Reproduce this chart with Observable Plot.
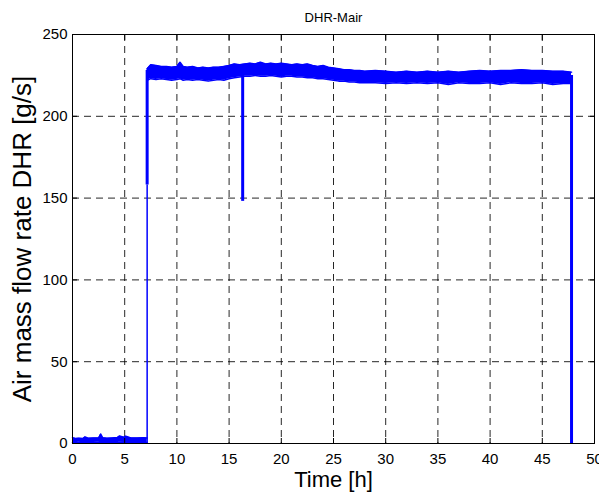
<!DOCTYPE html>
<html><head><meta charset="utf-8">
<script src="https://cdn.jsdelivr.net/npm/d3@7"></script>
<script src="https://cdn.jsdelivr.net/npm/@observablehq/plot@0.6"></script>
<style>body{margin:0;background:#fff}</style>
</head><body><div id="chart"></div>
<script>
// ---- data ----
const title = "DHR-Mair";
const xLabel = "Time [h]";
const yLabel = "Air mass flow rate DHR [g/s]";
const xTicks = [0, 5, 10, 15, 20, 25, 30, 35, 40, 45, 50];
const yTicks = [0, 50, 100, 150, 200, 250];

// idle period (before start-up): upper / lower edges of the noisy trace
const tIdle  = [0, 0.3, 0.6, 1.0, 1.2, 1.5, 2.0, 2.5, 2.7, 2.9, 3.3, 3.8, 4.3, 4.5, 4.9, 5.1, 5.6, 6.2, 6.8, 7.15];
const upIdle = [3.5, 3.0, 3.2, 3.0, 4.0, 3.2, 3.4, 3.3, 5.8, 3.5, 3.2, 3.4, 3.6, 4.6, 3.8, 4.5, 3.4, 3.3, 3.5, 3.4];
const loIdle = [0.6, 0.5, 0.7, 0.5, 0.6, 0.5, 0.6, 0.7, 0.5, 0.6, 0.5, 0.6, 0.5, 0.7, 0.6, 0.5, 0.6, 0.5, 0.6, 0.6];

// running period: upper / lower edges of the noisy trace
const tRun  = [7.15, 7.5, 8.0, 8.5, 9.0, 9.5, 10.0, 10.3, 10.6, 11.0, 11.5, 12.0, 12.5, 13.0, 13.5, 14.0, 14.5, 15.0, 15.5, 16.0, 16.5, 17.0, 17.5, 18.0, 18.5, 19.0, 19.5, 20.0, 20.5, 21.0, 21.5, 22.0, 22.5, 23.0, 23.5, 24.0, 24.5, 25.0, 25.5, 26.0, 26.5, 27.0, 27.5, 28.0, 29, 30, 31, 32, 33, 34, 35, 36, 37, 38, 39, 40, 41, 42, 43, 44, 45, 46, 47, 47.8];
const upRun = [229, 231.5, 231, 230.5, 230.5, 230, 230.5, 233, 230.5, 230, 230.5, 229.5, 230, 229.5, 230, 230, 230.5, 231, 232, 231.5, 232, 232.5, 232, 233, 232, 232.5, 232, 232.5, 232, 231.5, 232, 231.5, 232, 231, 230.5, 231, 230, 229.5, 229, 228.5, 228.5, 228, 228, 227.5, 228, 227.5, 227, 227.5, 227, 227.5, 227, 227.5, 227, 227.5, 228, 227.5, 228, 228, 228.5, 228, 228, 227.5, 227.5, 227];
const loRun = [222, 223, 222.5, 223, 222.5, 222, 222.5, 223, 222, 222.5, 222, 222.5, 222, 221.5, 222, 222.5, 222, 223, 223.5, 224, 224.5, 224.5, 225, 224.5, 224.5, 225, 224.5, 224, 224.5, 224.5, 224, 224, 223.5, 223.5, 223, 223, 222.5, 222, 221.5, 221.5, 221, 221, 220.5, 220.5, 220.5, 220, 220.5, 220, 220.5, 220, 220.5, 219.5, 220.5, 220, 220, 220.5, 219.5, 220.5, 220, 220, 220.5, 219.5, 220, 220];

// vertical transients: time, bottom, top
const dropT   = [7.15, 16.3, 47.8];
const dropLo  = [158, 148, 0];
const dropHi  = [228, 229, 225];
// thin start-up ramp below the first transient
const rampT = [7.15];
const rampLo = [0];
const rampHi = [158];

const idle = tIdle.map((t, i) => ({t, lo: loIdle[i], hi: upIdle[i]}));
const run = tRun.map((t, i) => ({t, lo: loRun[i], hi: upRun[i]}));
const drops = dropT.map((t, i) => ({t, lo: dropLo[i], hi: dropHi[i]}));
const ramp = rampT.map((t, i) => ({t, lo: rampLo[i], hi: rampHi[i]}));

const blue = "#0000ff";
const inner = v => v !== xTicks[0] && v !== xTicks[xTicks.length - 1];
const innerY = v => v !== yTicks[0] && v !== yTicks[yTicks.length - 1];

const chart = Plot.plot({
  width: 599, height: 496,
  marginLeft: 72, marginRight: 5, marginTop: 34, marginBottom: 53,
  style: {fontFamily: "'Liberation Sans', Arial, sans-serif", background: "#fff", color: "#000"},
  x: {domain: [0, 50]},
  y: {domain: [0, 250]},
  marks: [
    Plot.gridX(xTicks.filter(inner), {stroke: "#000", strokeOpacity: 0.85, strokeDasharray: "7,5", strokeWidth: 1}),
    Plot.gridY(yTicks.filter(innerY), {stroke: "#000", strokeOpacity: 0.85, strokeDasharray: "7,5", strokeWidth: 1}),
    Plot.areaY(idle, {x: "t", y1: "lo", y2: "hi", fill: blue}),
    Plot.line(idle, {x: "t", y: "hi", stroke: blue, strokeWidth: 1.5}),
    Plot.line(idle, {x: "t", y: "lo", stroke: blue, strokeWidth: 1.5}),
    Plot.areaY(run, {x: "t", y1: "lo", y2: "hi", fill: blue}),
    Plot.line(run, {x: "t", y: "hi", stroke: blue, strokeWidth: 1.5}),
    Plot.line(run, {x: "t", y: "lo", stroke: blue, strokeWidth: 1.5}),
    Plot.ruleX(ramp, {x: "t", y1: "lo", y2: "hi", stroke: blue, strokeWidth: 1.5}),
    Plot.ruleX(drops, {x: "t", y1: "lo", y2: "hi", stroke: blue, strokeWidth: 3}),
    Plot.frame({stroke: "#000", strokeWidth: 1}),
    Plot.axisX(xTicks, {anchor: "bottom", tickSize: -5, tickPadding: 15, fontSize: 15, label: null}),
    Plot.axisX(xTicks, {anchor: "top", tickSize: -5, tickFormat: () => "", label: null}),
    Plot.axisY(yTicks, {anchor: "left", tickSize: -5, tickPadding: 10, fontSize: 15, label: null}),
    Plot.axisY(yTicks, {anchor: "right", tickSize: -5, tickFormat: () => "", label: null}),
    Plot.text([title], {frameAnchor: "top", dy: -22, fontSize: 13}),
    Plot.text([xLabel], {frameAnchor: "bottom", dy: 43, fontSize: 22}),
    Plot.text([yLabel], {frameAnchor: "left", textAnchor: "middle", dx: -50, rotate: -90, fontSize: 26})
  ]
});
document.getElementById("chart").appendChild(chart);
</script>
</body></html>
